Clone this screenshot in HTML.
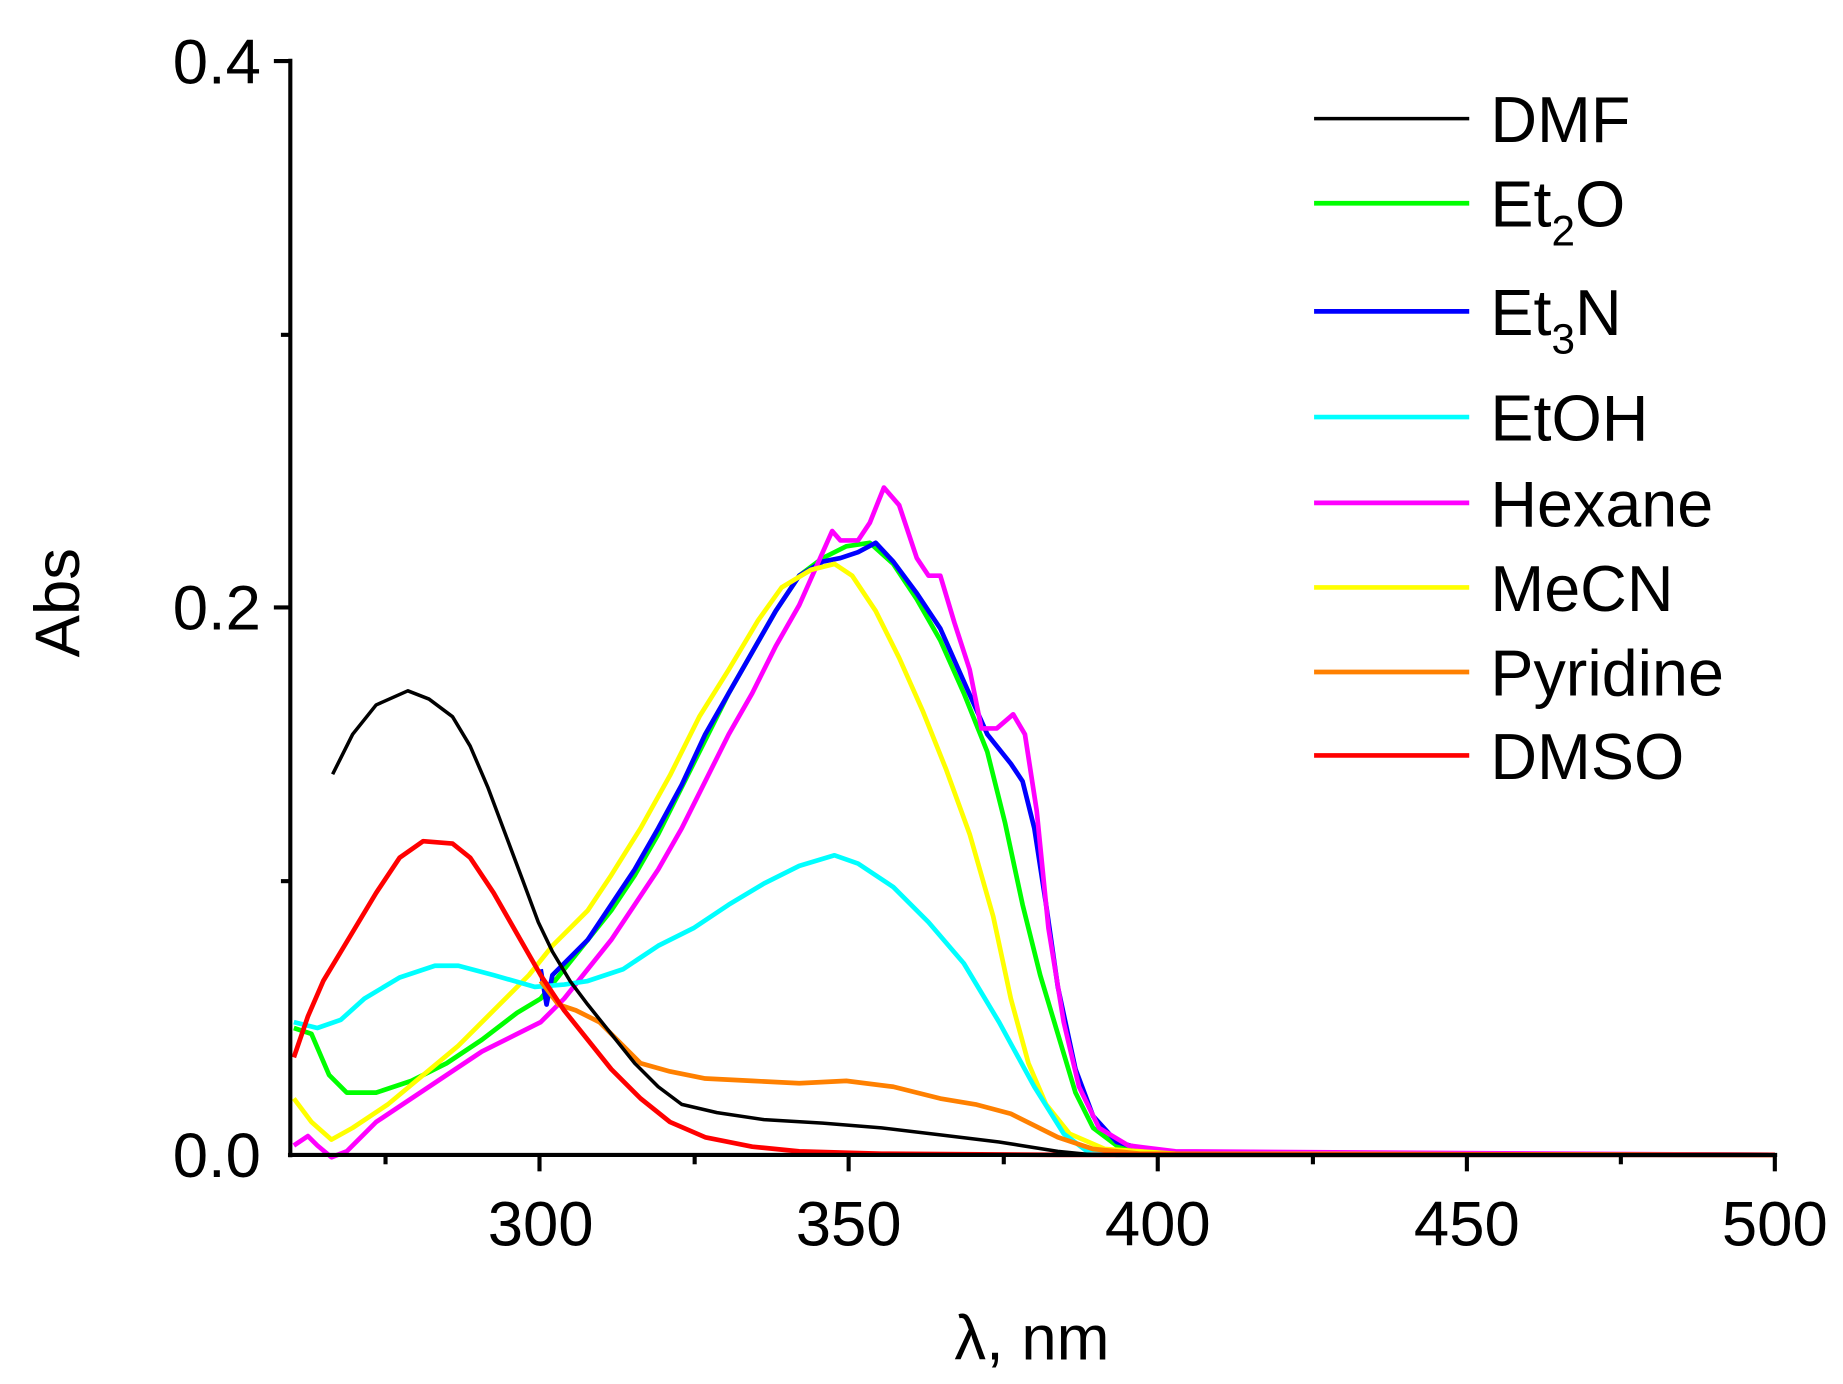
<!DOCTYPE html>
<html><head><meta charset="utf-8"><style>
html,body{margin:0;padding:0;background:#fff;}
svg{display:block;}
text{font-family:"Liberation Sans",sans-serif;fill:#000;}
</style></head><body>
<svg width="1843" height="1384" viewBox="0 0 1568 1178" preserveAspectRatio="none" xmlns="http://www.w3.org/2000/svg">
<g fill="none" stroke-width="4" stroke-linejoin="round">
<polyline stroke="#00ff00" points="250,875 265,880 280,915 295,930 320,930 350,920 380,905 410,885 440,862 460,850 480,825 500,800 520,775 540,745 560,710 580,670 600,630 620,590 640,555 660,520 680,490 700,475 720,465 740,462 760,480 780,510 800,545 820,590 840,640 855,700 870,770 885,830 900,880 915,930 930,960 950,975 980,980 1020,982 1510,983"/>
<polyline stroke="#0000ff" points="460,825 465,855 470,830 480,820 500,800 520,770 540,740 560,705 580,668 600,625 620,590 640,555 660,520 680,490 700,478 715,475 730,470 745,462 760,478 780,505 800,535 820,580 840,625 860,650 870,665 880,705 890,770 900,840 915,910 930,950 950,972 980,980 1020,982 1510,983"/>
<polyline stroke="#ff00ff" points="250,975 262,967 270,975 282,985 295,980 320,955 350,935 380,915 410,895 440,880 460,870 480,850 500,825 520,800 540,770 560,740 580,705 600,665 620,625 640,590 660,550 680,515 700,470 708,452 715,460 730,460 740,445 752,415 765,430 780,475 790,490 800,490 812,530 825,570 835,620 848,620 862,608 872,625 882,690 892,790 905,870 918,925 935,960 960,975 1000,980 1510,983"/>
<polyline stroke="#ffff00" points="250,935 265,955 282,970 300,960 330,940 360,915 390,890 420,860 450,830 470,805 500,775 520,745 545,705 570,660 595,610 620,570 645,528 665,500 690,485 710,480 725,490 745,520 765,560 785,605 805,655 825,710 845,780 860,850 875,905 890,940 910,965 940,978 1000,982 1510,983"/>
<polyline stroke="#00ffff" points="250,870 270,875 290,868 310,850 340,832 370,822 390,822 420,830 455,840 480,838 500,835 530,825 560,805 590,790 620,770 650,752 680,737 710,728 730,735 760,755 790,785 820,820 850,870 880,925 905,965 925,980 950,983 1510,983"/>
<polyline stroke="#ff8000" points="460,835 475,855 490,860 510,870 530,890 545,905 570,912 600,918 640,920 680,922 720,920 760,925 800,935 830,940 860,948 880,958 900,968 930,978 970,982 1510,983"/>
<polyline stroke="#ff0000" points="250,900 262,865 275,835 290,810 305,785 320,760 340,730 360,716 385,718 400,730 420,760 440,795 460,830 480,860 500,885 520,910 545,935 570,955 600,968 640,976 680,980 750,982 900,983 1510,983"/>
<polyline stroke="#000" stroke-width="3" points="283,659 290,645 300,625 320,600 347,588 365,595 385,610 400,635 415,670 430,710 445,750 458,785 470,810 485,835 500,855 520,880 540,905 560,925 580,940 610,947 650,953 700,956 750,960 800,966 850,972 900,980 930,983"/>
</g>
<g stroke="#000" stroke-width="3.5" fill="none">
<line x1="247" y1="50" x2="247" y2="985"/>
<line x1="245" y1="983" x2="1512" y2="983"/>
<line x1="233" y1="52" x2="247" y2="52"/>
<line x1="233" y1="517" x2="247" y2="517"/>
<line x1="239" y1="285" x2="247" y2="285"/>
<line x1="239" y1="750" x2="247" y2="750"/>
<line x1="459" y1="983" x2="459" y2="997"/>
<line x1="722" y1="983" x2="722" y2="997"/>
<line x1="985" y1="983" x2="985" y2="997"/>
<line x1="1248" y1="983" x2="1248" y2="997"/>
<line x1="1510" y1="983" x2="1510" y2="997"/>
<line x1="328" y1="983" x2="328" y2="991"/>
<line x1="591" y1="983" x2="591" y2="991"/>
<line x1="854" y1="983" x2="854" y2="991"/>
<line x1="1117" y1="983" x2="1117" y2="991"/>
<line x1="1379" y1="983" x2="1379" y2="991"/>
</g>
<g font-size="54" text-anchor="end">
<text x="222" y="71">0.4</text>
<text x="222" y="536">0.2</text>
<text x="222" y="1002">0.0</text>
</g>
<g font-size="54" text-anchor="middle">
<text x="460" y="1060">300</text>
<text x="722" y="1060">350</text>
<text x="985" y="1060">400</text>
<text x="1248" y="1060">450</text>
<text x="1510" y="1060">500</text>
<text x="878" y="1157">λ, nm</text>
<text transform="translate(67,513) rotate(-90)">Abs</text>
</g>
<g stroke-width="4">
<line x1="1118" y1="101" x2="1250" y2="101" stroke="#000" stroke-width="3"/>
<line x1="1118" y1="173" x2="1250" y2="173" stroke="#00ff00"/>
<line x1="1118" y1="265" x2="1250" y2="265" stroke="#0000ff"/>
<line x1="1118" y1="355" x2="1250" y2="355" stroke="#00ffff"/>
<line x1="1118" y1="428" x2="1250" y2="428" stroke="#ff00ff"/>
<line x1="1118" y1="500" x2="1250" y2="500" stroke="#ffff00"/>
<line x1="1118" y1="572" x2="1250" y2="572" stroke="#ff8000"/>
<line x1="1118" y1="643" x2="1250" y2="643" stroke="#ff0000"/>
</g>
<g font-size="55">
<text x="1268" y="121">DMF</text>
<text x="1268" y="193">Et<tspan font-size="36" dy="16">2</tspan><tspan dy="-16">O</tspan></text>
<text x="1268" y="285">Et<tspan font-size="36" dy="16">3</tspan><tspan dy="-16">N</tspan></text>
<text x="1268" y="375">EtOH</text>
<text x="1268" y="448">Hexane</text>
<text x="1268" y="520">MeCN</text>
<text x="1268" y="592">Pyridine</text>
<text x="1268" y="663">DMSO</text>
</g>
</svg>
</body></html>
